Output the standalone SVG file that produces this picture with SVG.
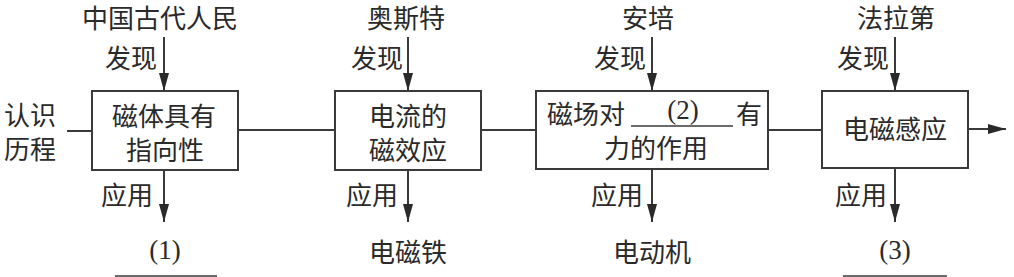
<svg xmlns="http://www.w3.org/2000/svg" width="1014" height="277" viewBox="0 0 1014 277">
<style>
.t{font-family:"Noto Sans CJK SC","Noto Sans",sans-serif;font-size:26px;fill:#2a2a2a}
.n{font-family:"Liberation Serif","Noto Sans CJK SC",serif;font-size:27px;fill:#2a2a2a}
.box{fill:#fff;stroke:#3a3a3a;stroke-width:2}
.ln{stroke:#3a3a3a;stroke-width:2;fill:none}
.ul{stroke:#3a3a3a;stroke-width:1.5;fill:none}
</style>
<defs>
<marker id="ah" markerUnits="userSpaceOnUse" markerWidth="18" markerHeight="10" refX="18" refY="5" orient="auto">
<path d="M0,0 L18,5 L0,10 z" fill="#2a2a2a"/>
</marker>
</defs>
<rect width="1014" height="277" fill="#fff"/>
<g id="connectors">
<line class="ln" x1="67" y1="131" x2="92" y2="131"/>
<line class="ln" x1="238" y1="130" x2="335" y2="130"/>
<line class="ln" x1="481" y1="130" x2="536" y2="130"/>
<line class="ln" x1="768" y1="130" x2="822" y2="130"/>
<line class="ln" x1="968" y1="129" x2="1006" y2="129" marker-end="url(#ah)"/>
<line class="ln" x1="164" y1="37" x2="164" y2="91" marker-end="url(#ah)"/>
<line class="ln" x1="164" y1="170" x2="164" y2="222" marker-end="url(#ah)"/>
<line class="ln" x1="408" y1="37" x2="408" y2="91" marker-end="url(#ah)"/>
<line class="ln" x1="408" y1="170" x2="408" y2="222" marker-end="url(#ah)"/>
<line class="ln" x1="652" y1="37" x2="652" y2="91" marker-end="url(#ah)"/>
<line class="ln" x1="652" y1="169" x2="652" y2="222" marker-end="url(#ah)"/>
<line class="ln" x1="895" y1="37" x2="895" y2="91" marker-end="url(#ah)"/>
<line class="ln" x1="895" y1="168" x2="895" y2="222" marker-end="url(#ah)"/>
<text class="t" x="131" y="68" text-anchor="middle">发现</text>
<text class="t" x="377" y="68" text-anchor="middle">发现</text>
<text class="t" x="620" y="68" text-anchor="middle">发现</text>
<text class="t" x="863" y="68" text-anchor="middle">发现</text>
<text class="t" x="127" y="205" text-anchor="middle">应用</text>
<text class="t" x="372" y="205" text-anchor="middle">应用</text>
<text class="t" x="617" y="205" text-anchor="middle">应用</text>
<text class="t" x="861" y="205" text-anchor="middle">应用</text>
</g>
<g id="label-history">
<text class="t" x="30" y="125" text-anchor="middle">认识</text>
<text class="t" x="30" y="159" text-anchor="middle">历程</text>
</g>
<g id="src1"><text class="t" x="160" y="28" text-anchor="middle">中国古代人民</text></g>
<g id="src2"><text class="t" x="406" y="28" text-anchor="middle">奥斯特</text></g>
<g id="src3"><text class="t" x="648" y="28" text-anchor="middle">安培</text></g>
<g id="src4"><text class="t" x="896" y="28" text-anchor="middle">法拉第</text></g>
<g id="box1">
<rect class="box" x="92" y="91" width="146" height="79"/>
<text class="t" x="164" y="126" text-anchor="middle">磁体具有</text>
<text class="t" x="165" y="160" text-anchor="middle">指向性</text>
</g>
<g id="box2">
<rect class="box" x="335" y="91" width="146" height="79"/>
<text class="t" x="408" y="126" text-anchor="middle">电流的</text>
<text class="t" x="408" y="160" text-anchor="middle">磁效应</text>
</g>
<g id="box3">
<rect class="box" x="536" y="91" width="232" height="78"/>
<text class="t" x="547" y="124">磁场对</text>
<line class="ul" x1="631" y1="126" x2="733" y2="126"/>
<text class="n" x="683" y="119" text-anchor="middle">(2)</text>
<text class="t" x="736" y="124">有</text>
<text class="t" x="656" y="158" text-anchor="middle">力的作用</text>
</g>
<g id="box4">
<rect class="box" x="822" y="91" width="146" height="77"/>
<text class="t" x="895" y="139" text-anchor="middle">电磁感应</text>
</g>
<g id="out1">
<text class="n" x="165" y="259" text-anchor="middle">(1)</text>
<line class="ul" x1="115" y1="276" x2="217" y2="276"/>
</g>
<g id="out2"><text class="t" x="408" y="262" text-anchor="middle">电磁铁</text></g>
<g id="out3"><text class="t" x="652" y="262" text-anchor="middle">电动机</text></g>
<g id="out4">
<text class="n" x="895" y="259" text-anchor="middle">(3)</text>
<line class="ul" x1="843" y1="276" x2="947" y2="276"/>
</g>
</svg>
